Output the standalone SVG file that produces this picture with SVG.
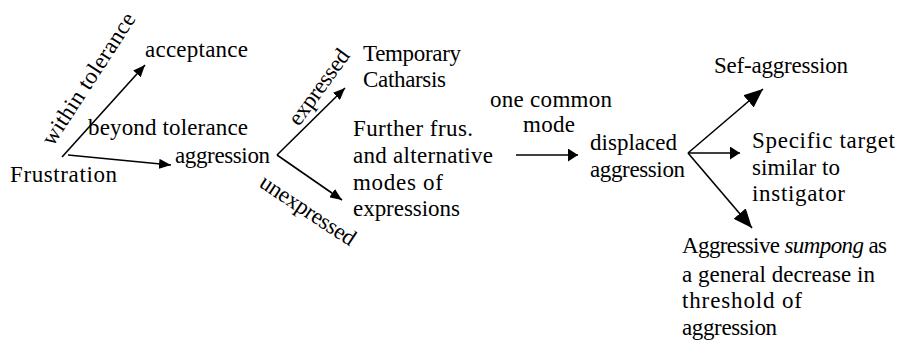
<svg xmlns="http://www.w3.org/2000/svg" width="897" height="348" viewBox="0 0 897 348">
<style>
.c line { stroke: #000; stroke-width: 1.6; }
</style>
<defs>
<marker id="sm" markerUnits="userSpaceOnUse" markerWidth="12" markerHeight="10" refX="12" refY="5" orient="auto"><path d="M0,0 L12,5 L0,10 z" fill="#000"/></marker>
<marker id="md" markerUnits="userSpaceOnUse" markerWidth="10" markerHeight="13" refX="10" refY="6.5" orient="auto"><path d="M0,0 L10,6.5 L0,13 z" fill="#000"/></marker>
<marker id="bg" markerUnits="userSpaceOnUse" markerWidth="19" markerHeight="16" refX="19" refY="8" orient="auto"><path d="M0,0 L19,8 L0,16 z" fill="#000"/></marker>
</defs>
<rect width="897" height="348" fill="#fff"/>
<g id="connectors" class="c">
<line x1="62" y1="157" x2="145" y2="65" marker-end="url(#sm)"/>
<line x1="68" y1="155" x2="171" y2="165" marker-end="url(#sm)"/>
<line x1="277" y1="155" x2="345" y2="88" marker-end="url(#sm)"/>
<line x1="277" y1="155" x2="342" y2="200" marker-end="url(#sm)"/>
<line x1="516" y1="155" x2="578" y2="155" marker-end="url(#md)"/>
<line x1="688" y1="153" x2="763" y2="89" marker-end="url(#bg)"/>
<line x1="688" y1="153" x2="740" y2="153" marker-end="url(#md)"/>
<line x1="688" y1="153" x2="752" y2="228" marker-end="url(#bg)"/>
</g>
<g font-family="Liberation Serif, Times New Roman, serif" font-size="23" fill="#000">
<g id="labels">
<text transform="translate(53,147) rotate(-57)" textLength="153">within tolerance</text>
<text x="88" y="135" textLength="160">beyond tolerance</text>
<text transform="translate(299,127) rotate(-54)" textLength="88">expressed</text>
<text transform="translate(258,186) rotate(33.5)" textLength="110">unexpressed</text>
<text x="490" y="107" textLength="122">one common</text>
<text x="523" y="132" textLength="52">mode</text>
</g>
<g id="frustration"><text x="10" y="182" textLength="107">Frustration</text></g>
<g id="acceptance"><text x="145" y="57" textLength="103">acceptance</text></g>
<g id="aggression"><text x="175" y="163" textLength="95">aggression</text></g>
<g id="catharsis">
<text x="363" y="61" textLength="98">Temporary</text>
<text x="363" y="87" textLength="83">Catharsis</text>
</g>
<g id="further">
<text x="353" y="136" textLength="120">Further frus.</text>
<text x="353" y="163" textLength="140">and alternative</text>
<text x="353" y="190" textLength="90">modes of</text>
<text x="353" y="216" textLength="107">expressions</text>
</g>
<g id="displaced">
<text x="590" y="150" textLength="87">displaced</text>
<text x="590" y="177" textLength="95">aggression</text>
</g>
<g id="self"><text x="714" y="73" textLength="134">Sef-aggression</text></g>
<g id="specific">
<text x="752" y="148" textLength="143">Specific target</text>
<text x="752" y="175" textLength="88">similar to</text>
<text x="752" y="201" textLength="93">instigator</text>
</g>
<g id="sumpong">
<text x="682" y="253" textLength="205">Aggressive <tspan font-style="italic">sumpong</tspan> as</text>
<text x="682" y="282" textLength="193">a general decrease in</text>
<text x="682" y="308" textLength="120">threshold of</text>
<text x="682" y="335" textLength="95">aggression</text>
</g>
</g>
</svg>
